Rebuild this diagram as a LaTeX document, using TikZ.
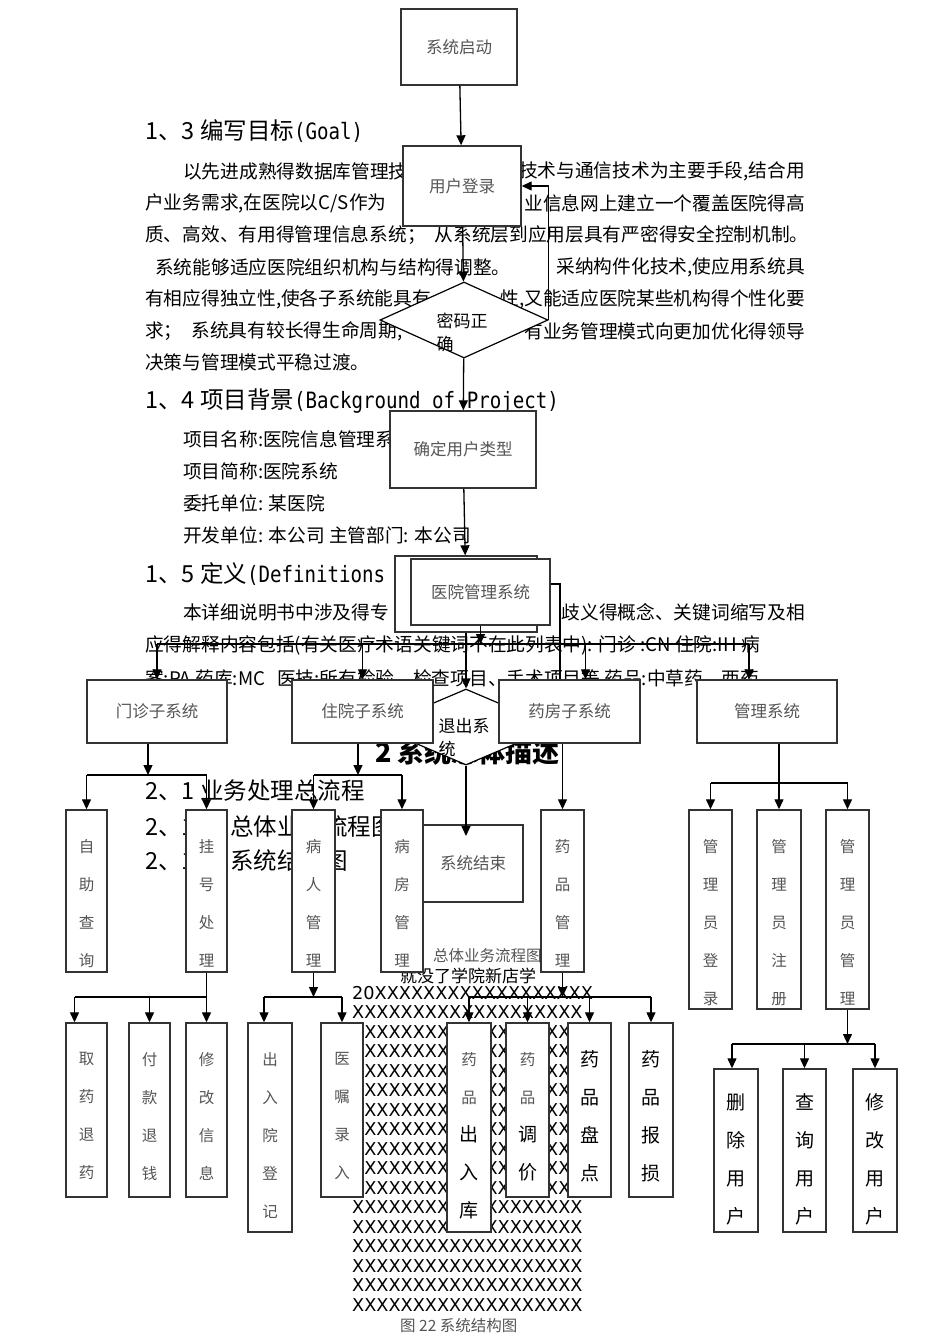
\documentclass[tikz,border=0pt]{standalone}
\usepackage{fontspec}
\setmainfont{Noto Sans CJK SC}
\newfontfamily\hdmono{DejaVu Sans Mono}[FakeStretch=0.85]
\newfontfamily\dejavu{DejaVu Sans}
\usepackage{tikz}
\usetikzlibrary{arrows.meta, positioning, shapes.geometric}
\definecolor{boxedge}{HTML}{333333}
\definecolor{boxtext}{HTML}{555555}
\newcommand{\xrow}{XXXXXXXXXXXXXXXXXXX}
\newcommand{\bigc}[1]{{\fontsize{19}{38}\selectfont\color{black}#1}}
\newcommand{\hdlatin}[1]{{\hdmono\fontsize{22.5}{24}\selectfont #1}}

\begin{document}
\begin{tikzpicture}[
    x=1pt, y=-1pt,
    flowbox/.style={
      draw=boxedge, fill=white, line width=1.4pt,
      inner sep=0pt, align=center,
      font=\fontsize{16.5}{20}\selectfont, text=boxtext,
    },
    colbox/.style={draw=boxedge, fill=white, line width=1.4pt, inner sep=0pt},
    coltext/.style={align=center, inner sep=0pt, text=boxtext,
                    font=\fontsize{15.5}{38}\selectfont},
    bigtext/.style={align=center, inner sep=0pt, text=black,
                    font=\fontsize{19}{38}\selectfont},
    judge/.style={diamond, draw=black, fill=white, line width=1.2pt,
                  inner sep=0pt},
    judgetext/.style={align=left, inner sep=0pt,
                      font=\fontsize{17}{23}\selectfont},
    flowarrow/.style={-{Triangle[length=10pt,width=9pt]}, line width=1.3pt},
    flowline/.style={line width=1.3pt},
    doctext/.style={anchor=west, inner sep=0pt,
                    font=\fontsize{18.7}{19}\selectfont},
    dochead/.style={anchor=west, inner sep=0pt,
                    font=\fontsize{23.5}{24}\selectfont},
    smallnote/.style={anchor=west, inner sep=0pt, text=boxtext,
                      font=\fontsize{15.5}{16}\selectfont},
  ]

  \fill[white] (0,0) rectangle (950,1344);
  \useasboundingbox (0,0) rectangle (950,1344);

  % -----------------------------------------------------------
  % Document text behind the chart
  % -----------------------------------------------------------
  \node[dochead] (h13) at (145,131) {1、3 编写目标\hdlatin{(Goal)}};
  \node[doctext] (p1l) at (183,171) {以先进成熟得数据库管理技};
  \node[doctext, anchor=east] (p1r) at (805,171) {技术与通信技术为主要手段,结合用};
  \node[doctext] (p2l) at (145,203) {户业务需求,在医院以C/S作为};
  \node[doctext, anchor=east] (p2r) at (805,203) {业信息网上建立一个覆盖医院得高};
  \node[doctext] (p3) at (145,235)
        {质、高效、有用得管理信息系统；\hspace{9pt}从系统层到应用层具有严密得安全控制机制。};
  \node[doctext] (p4l) at (155,267) {系统能够适应医院组织机构与结构得调整。};
  \node[doctext, anchor=east] (p4r) at (805,267) {采纳构件化技术,使应用系统具};
  \node[doctext] (p5l) at (145,299) {有相应得独立性,使各子系统能具有};
  \node[doctext, anchor=east] (p5r) at (805,299) {性,又能适应医院某些机构得个性化要};
  \node[doctext] (p6l) at (145,331) {求；\hspace{9pt}系统具有较长得生命周期,};
  \node[doctext, anchor=east] (p6r) at (805,331) {有业务管理模式向更加优化得领导};
  \node[doctext] (p7) at (145,362) {决策与管理模式平稳过渡。};

  \node[dochead] (h14) at (145,401) {1、4 项目背景\hdlatin{(Background of Project)}};
  \node[doctext] (q1) at (183,439) {项目名称:医院信息管理系统};
  \node[doctext] (q2) at (183,471) {项目简称:医院系统};
  \node[doctext] (q3) at (183,503) {委托单位: 某医院};
  \node[doctext] (q4) at (183,535) {开发单位: 本公司 主管部门: 本公司};

  \node[dochead] (h15) at (145,574) {1、5 定义\hdlatin{(Definitions}};
  \node[doctext] (r1l) at (183,612) {本详细说明书中涉及得专};
  \node[doctext, anchor=east] (r1r) at (805,612) {歧义得概念、关键词缩写及相};
  \node[doctext] (r2) at (145,645)
        {应得解释内容包括(有关医疗术语关键词不在此列表中): 门诊 :CN 住院:IH 病};
  \node[doctext] (r3) at (145,678)
        {案:PA 药库:MC\hspace{12pt}医技:所有检验、检查项目、手术项目等 药品:中草药、西药};

  \node[anchor=west, inner sep=0pt, font=\fontsize{27}{28}\selectfont\bfseries]
        (h2) at (375,752) {2 系统总体描述};
  \node[dochead] (h21) at (145,791) {2、1 业务处理总流程};
  \node[dochead] (h211) at (145,827) {2、1.1\hspace{16pt}总体业务流程图};
  \node[dochead] (h212) at (145,861) {2、1.2\hspace{16pt}系统结构图};

  \node[smallnote] (note1) at (433,956) {总体业务流程图};
  \node[anchor=west, inner sep=0pt, font=\fontsize{17}{17}\selectfont]
        (note2) at (400,976) {就没了学院新店学};
  \node[anchor=north west, inner sep=0pt, align=left,
        font=\dejavu\fontsize{17.7}{19.5}\selectfont]
        (xrows) at (352,986)
        {20XXXXXXXXXXXXXXXXXX\\\xrow\\\xrow\\\xrow\\\xrow\\\xrow\\\xrow\\\xrow\\\xrow\\
         \xrow\\\xrow\\\xrow\\\xrow\\\xrow\\\xrow\\\xrow\\\xrow};
  \node[smallnote] (cap) at (400,1326) {图 22 系统结构图};

  % -----------------------------------------------------------
  % Login flow (top)
  % -----------------------------------------------------------
  \node[flowbox, minimum width=116, minimum height=76] (xtqd) at (459,47) {系统启动};
  \node[flowbox, minimum width=118, minimum height=80] (yhdl) at (462,186) {用户登录};
  \node[judge, minimum width=168, minimum height=76] (mmzq) at (464,320) {};
  \node[judgetext] (mmzq-t) at (462,332) {密码正\\确};
  \node[flowbox, minimum width=146, minimum height=77] (qdlx) at (463,449.5) {确定用户类型};
  \node[flowbox, minimum width=142, minimum height=76] (yyglb) at (466,594) {};
  \node[flowbox, minimum width=139, minimum height=66] (yygl) at (480.5,592) {医院管理系统};

  % -----------------------------------------------------------
  % Subsystems and exit
  % -----------------------------------------------------------
  \node[judge, minimum width=178, minimum height=76] (tcxt) at (466,727) {};
  \node[judgetext] (tcxt-t) at (464,738) {退出系\\统};
  \node[flowbox, minimum width=140, minimum height=63] (mz) at (157,711.5) {门诊子系统};
  \node[flowbox, minimum width=141, minimum height=63] (zy) at (362.5,711.5) {住院子系统};
  \node[flowbox, minimum width=141, minimum height=63] (yf) at (569.5,711.5) {药房子系统};
  \node[flowbox, minimum width=140, minimum height=63] (gl) at (767,711.5) {管理系统};
  \node[flowbox, minimum width=100, minimum height=77] (xtjs) at (473,863.5) {系统结束};

  % -----------------------------------------------------------
  % Third level (vertical labels)
  % -----------------------------------------------------------
  \node[colbox, minimum width=41, minimum height=162] (zzcx) at (86.5,891) {};
  \node[coltext, below=30pt of zzcx.north] (zzcx-t) {自\\助\\查\\询};
  \node[colbox, minimum width=41, minimum height=162] (ghcl) at (206.5,891) {};
  \node[coltext, below=30pt of ghcl.north] (ghcl-t) {挂\\号\\处\\理};
  \node[colbox, minimum width=43, minimum height=162] (brgl) at (313.5,891) {};
  \node[coltext, below=30pt of brgl.north] (brgl-t) {病\\人\\管\\理};
  \node[colbox, minimum width=42, minimum height=162] (bfgl) at (402,891) {};
  \node[coltext, below=30pt of bfgl.north] (bfgl-t) {病\\房\\管\\理};
  \node[colbox, minimum width=43, minimum height=162] (ypgl) at (562.5,891) {};
  \node[coltext, below=30pt of ypgl.north] (ypgl-t) {药\\品\\管\\理};
  \node[colbox, minimum width=43, minimum height=199] (glydl) at (710.5,909.5) {};
  \node[coltext, below=30pt of glydl.north] (glydl-t) {管\\理\\员\\登\\录};
  \node[colbox, minimum width=44, minimum height=199] (glyzc) at (779,909.5) {};
  \node[coltext, below=30pt of glyzc.north] (glyzc-t) {管\\理\\员\\注\\册};
  \node[colbox, minimum width=43, minimum height=199] (glygl) at (847.5,909.5) {};
  \node[coltext, below=30pt of glygl.north] (glygl-t) {管\\理\\员\\管\\理};

  % -----------------------------------------------------------
  % Fourth level
  % -----------------------------------------------------------
  \node[colbox, minimum width=41, minimum height=174] (qyty) at (86.5,1110) {};
  \node[coltext, below=30pt of qyty.north] (qyty-t) {取\\药\\退\\药};
  \node[colbox, minimum width=41, minimum height=174] (fktq) at (149.5,1110) {};
  \node[coltext, below=30pt of fktq.north] (fktq-t) {付\\款\\退\\钱};
  \node[colbox, minimum width=41, minimum height=174] (xgxx) at (206.5,1110) {};
  \node[coltext, below=30pt of xgxx.north] (xgxx-t) {修\\改\\信\\息};
  \node[colbox, minimum width=44, minimum height=209] (cryd) at (270,1127.5) {};
  \node[coltext, below=30pt of cryd.north] (cryd-t) {出\\入\\院\\登\\记};
  \node[colbox, minimum width=42, minimum height=174] (yzlr) at (342,1110) {};
  \node[coltext, below=30pt of yzlr.north] (yzlr-t) {医\\嘱\\录\\入};
  \node[colbox, minimum width=44, minimum height=209] (ypcr) at (469,1127.5) {};
  \node[coltext, below=30pt of ypcr.north] (ypcr-t) {药\\品\\\bigc{出}\\\bigc{入}\\\bigc{库}};
  \node[colbox, minimum width=43, minimum height=174] (yptj) at (527.5,1110) {};
  \node[coltext, below=30pt of yptj.north] (yptj-t) {药\\品\\\bigc{调}\\\bigc{价}};
  \node[colbox, minimum width=43, minimum height=174] (yppd) at (589.5,1110) {};
  \node[bigtext, below=28pt of yppd.north] (yppd-t) {药\\品\\盘\\点};
  \node[colbox, minimum width=44, minimum height=174] (ypbs) at (651,1110) {};
  \node[bigtext, below=28pt of ypbs.north] (ypbs-t) {药\\品\\报\\损};

  \node[colbox, minimum width=44, minimum height=163] (scyh) at (736,1150.5) {};
  \node[bigtext, below=25pt of scyh.north] (scyh-t) {删\\除\\用\\户};
  \node[colbox, minimum width=43, minimum height=163] (cxyh) at (804.5,1150.5) {};
  \node[bigtext, below=25pt of cxyh.north] (cxyh-t) {查\\询\\用\\户};
  \node[colbox, minimum width=44, minimum height=163] (xgyh) at (875,1150.5) {};
  \node[bigtext, below=25pt of xgyh.north] (xgyh-t) {修\\改\\用\\户};

  % -----------------------------------------------------------
  % Connectors: login flow
  % -----------------------------------------------------------
  \draw[flowarrow] (xtqd) -- (yhdl);
  \draw[flowarrow] (yhdl) -- (mmzq);
  \draw[flowarrow] (mmzq.east) -- (mmzq.east |- yhdl.east) -- (yhdl.east);
  \draw[flowarrow] (mmzq) -- (qdlx);
  \draw[flowarrow] (qdlx) -- (yyglb);

  % bus to the four subsystems
  \coordinate (bus)  at (480.5,644);
  \coordinate (yfin) at ([xshift=16pt]yf.north);
  \coordinate (glin) at ([xshift=-18pt]gl.north);
  \draw[flowarrow] (yygl.south) -- (bus);
  \draw[flowline]  (bus -| mz.north) -- (bus -| glin);
  \draw[flowarrow] (bus -| mz.north) -- (mz.north);
  \draw[flowarrow] (bus -| zy.north) -- (zy.north);
  \draw[flowarrow] (bus -| yfin) -- (yfin);
  \draw[flowarrow] (bus -| glin) -- (glin);

  \coordinate (yfcorner) at (560,584);
  \draw[flowline] (yygl.east |- yfcorner) -- (yfcorner) -- (yfcorner |- yf.north);

  % exit branch
  \draw[flowarrow] (yyglb) -- (tcxt);
  \coordinate (xtjsin) at (466,836);
  \draw[flowarrow] (tcxt.south) -- (xtjsin);

  % -----------------------------------------------------------
  % Connectors: subsystems -> third level
  % -----------------------------------------------------------
  \coordinate (mzsplit) at (148,775);
  \draw[flowarrow] (mz.south -| mzsplit) -- (mzsplit);
  \draw[flowline]  (mzsplit -| zzcx.north) -- (mzsplit -| ghcl.north);
  \draw[flowarrow] (mzsplit -| zzcx.north) -- (zzcx.north);
  \draw[flowarrow] (mzsplit -| ghcl.north) -- (ghcl.north);

  \coordinate (zysplit) at (358,775);
  \draw[flowarrow] (zy.south -| zysplit) -- (zysplit);
  \draw[flowline]  (zysplit -| brgl.north) -- (zysplit -| bfgl.north);
  \draw[flowarrow] (zysplit -| brgl.north) -- (brgl.north);
  \draw[flowarrow] (zysplit -| bfgl.north) -- (bfgl.north);

  \draw[flowarrow] (yf.south -| ypgl.north) -- (ypgl.north);

  \coordinate (glsplit) at (779,783);
  \draw[flowarrow] (gl.south -| glyzc.north) -- (glyzc.north);
  \draw[flowline]  (glsplit -| glydl.north) -- (glsplit -| glygl.north);
  \draw[flowarrow] (glsplit -| glydl.north) -- (glydl.north);
  \draw[flowarrow] (glsplit -| glygl.north) -- (glygl.north);

  % -----------------------------------------------------------
  % Connectors: third -> fourth level
  % -----------------------------------------------------------
  \coordinate (ghsplit) at (206.5,997);
  \coordinate (qytyin) at ([xshift=-12pt]qyty.north);
  \draw[flowline]  (ghcl.south) -- (ghsplit);
  \draw[flowline]  (ghsplit -| qytyin) -- (ghsplit);
  \draw[flowarrow] (ghsplit -| qytyin) -- (qytyin);
  \draw[flowarrow] (ghsplit -| fktq.north) -- (fktq.north);
  \draw[flowarrow] (ghsplit) -- (xgxx.north);

  \coordinate (brsplit) at (313.5,997);
  \coordinate (crydin) at ([xshift=-6pt]cryd.north);
  \draw[flowarrow] (brgl.south) -- (brsplit);
  \draw[flowline]  (brsplit -| crydin) -- (brsplit -| yzlr.north);
  \draw[flowarrow] (brsplit -| crydin) -- (crydin);
  \draw[flowarrow] (brsplit -| yzlr.north) -- (yzlr.north);

  \coordinate (ypsplit) at (562.5,997);
  \draw[flowarrow] (ypgl.south) -- (ypsplit);
  \draw[flowline]  (ypsplit -| ypcr.north) -- (ypsplit -| ypbs.north);
  \draw[flowarrow] (ypsplit -| ypcr.north) -- (ypcr.north);
  \draw[flowarrow] (ypsplit -| yptj.north) -- (yptj.north);
  \draw[flowarrow] (ypsplit -| yppd.north) -- (yppd.north);
  \draw[flowarrow] (ypsplit -| ypbs.north) -- (ypbs.north);

  \coordinate (gysplit) at (847.5,1044);
  \coordinate (scyhin) at ([xshift=-4pt]scyh.north);
  \draw[flowarrow] (glygl.south) -- (gysplit);
  \draw[flowline]  (gysplit -| scyhin) -- (gysplit -| xgyh.north);
  \draw[flowarrow] (gysplit -| scyhin) -- (scyhin);
  \draw[flowarrow] (gysplit -| cxyh.north) -- (cxyh.north);
  \draw[flowarrow] (gysplit -| xgyh.north) -- (xgyh.north);

\end{tikzpicture}
\end{document}
